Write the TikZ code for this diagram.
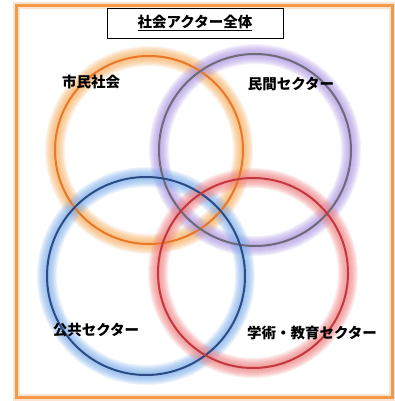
\documentclass[tikz,border=0pt]{standalone}
\usepackage{fontspec}
\setmainfont{Noto Sans CJK JP}
\begin{document}
\begin{tikzpicture}[x=1pt,y=-1pt,
  lbl/.style={font=\fontsize{14.5}{16}\selectfont\bfseries, text=black, inner sep=0pt},
]
\definecolor{frameor}{HTML}{F29A4A}
\definecolor{orline}{HTML}{E8782A}
\definecolor{orglow}{HTML}{F9B060}
\definecolor{puline}{HTML}{6E6A78}
\definecolor{puglow}{HTML}{B09AE6}
\definecolor{blline}{HTML}{2B4C85}
\definecolor{blglow}{HTML}{80B0EE}
\definecolor{reline}{HTML}{C2383E}
\definecolor{reglow}{HTML}{F28282}
\useasboundingbox (0,0) rectangle (395,401);
\fill[white] (0,0) rectangle (395,401);
% frame
\draw[frameor, line width=7, opacity=0.25] (16,6) rectangle (392,397);
\draw[frameor, line width=3] (16,6) rectangle (392,397);
% centres
\coordinate (cO) at (149,150);
\coordinate (cP) at (255,150);
\coordinate (cB) at (146,276);
\coordinate (cR) at (253,273);
% glows
\foreach \c/\r/\g in {cO/94/orglow, cP/96/puglow, cB/99/blglow, cR/95/reglow}{
  \foreach \w in {20,18,16,14,12,10,8,6,4}{
    \draw[\g, line width=\w, opacity=0.13] (\c) circle (\r);
  }
}
% lines
\draw[orline, line width=2] (cO) circle (94);
\draw[puline, line width=2] (cP) circle (96);
\draw[blline, line width=2] (cB) circle (99);
\draw[reline, line width=2] (cR) circle (95);
% title
\node[draw=black, line width=0.8, fill=white, minimum width=176, minimum height=30, inner sep=0pt] (title) at (195,23) {};
\node[lbl] (titletext) at (195,23) {\underline{社会アクター全体}};
% labels
\node[lbl] (lO) at (91,82) {市民社会};
\node[lbl] (lP) at (291,84) {民間セクター};
\node[lbl] (lB) at (96,330) {公共セクター};
\node[lbl] (lR) at (312,333) {学術・教育セクター};
\end{tikzpicture}
\end{document}
